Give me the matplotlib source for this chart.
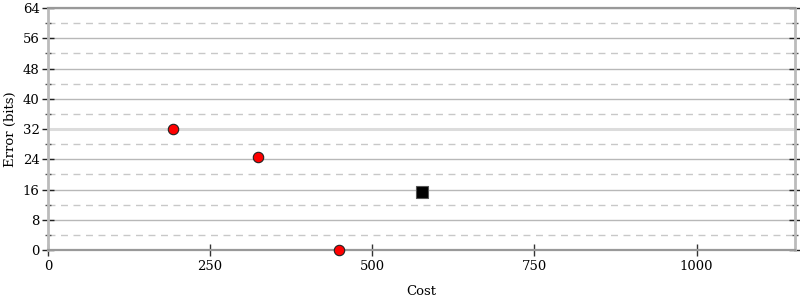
import matplotlib
matplotlib.use("Agg")
import matplotlib.pyplot as plt
from matplotlib.ticker import MultipleLocator

plt.rcParams['font.family'] = ['DejaVu Serif']

circle_cost = [192, 324, 448]
circle_error = [31.9, 24.7, 0.0]
square_cost = [576]
square_error = [15.3]
x_ticks = [0, 250, 500, 750, 1000]
y_ticks = [0, 8, 16, 24, 32, 40, 48, 56, 64]

fig = plt.figure(figsize=(8, 3), dpi=100)
ax = fig.add_axes([0.06, 0.1667, 0.934, 0.8063])
ax.set_xlim(0, 1152)
ax.set_ylim(0, 64)
ax.set_xticks(x_ticks)
ax.set_yticks(y_ticks)
ax.yaxis.set_minor_locator(MultipleLocator(4))

ax.grid(True, which='major', axis='y', color='#b8b8b8', lw=1, ls='-')
ax.grid(True, which='minor', axis='y', color='#c8c8c8', lw=1, ls=(0, (5, 4)))
ax.set_axisbelow(True)
ax.axhline(32, color='#dcdcdc', lw=2.2, zorder=1)

for s in ['left', 'right']:
    ax.spines[s].set_color('#bbbbbb')
    ax.spines[s].set_linewidth(2)
for s in ['top', 'bottom']:
    ax.spines[s].set_color('#999999')
    ax.spines[s].set_linewidth(1.6)

ax.tick_params(axis='y', which='major', direction='inout', length=8, width=1, color='#222222',
               left=True, right=True, labelsize=9.5, pad=2)
ax.tick_params(axis='y', which='minor', direction='inout', length=4.5, width=1, color='#555555',
               left=True, right=True)
ax.tick_params(axis='x', which='major', direction='inout', length=8, width=1, color='#333333',
               labelsize=9.5, pad=3)

ax.plot(circle_cost, circle_error, 'o', color='red', mec='#222222', mew=0.8, ms=7.5,
        clip_on=False, zorder=5)
ax.plot(square_cost, square_error, 's', color='black', mec='#555555', mew=0.8, ms=8.5,
        clip_on=False, zorder=5)

ax.set_xlabel('Cost', fontsize=9.5, labelpad=9)
ax.set_ylabel('Error (bits)', fontsize=9.5)
ax.yaxis.set_label_coords(-0.0415, 0.5)

fig.savefig('out.png', dpi=100)
